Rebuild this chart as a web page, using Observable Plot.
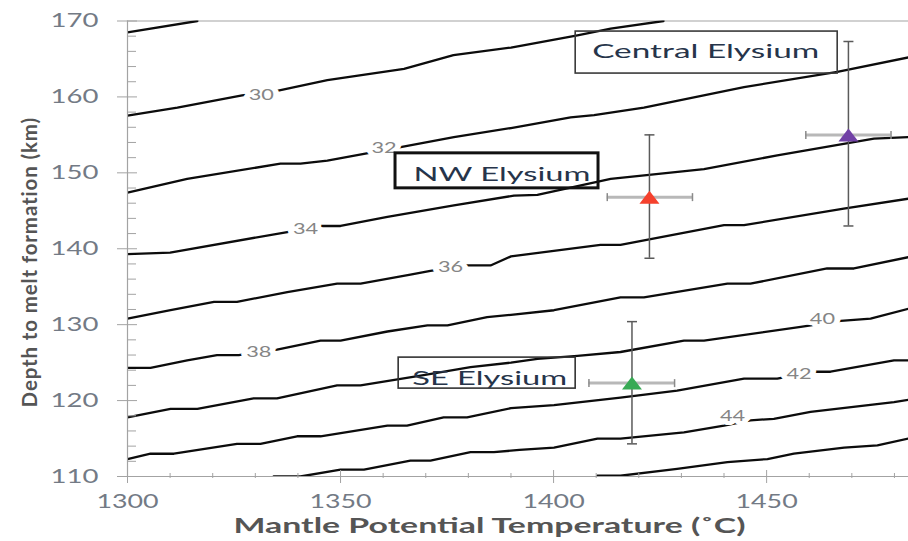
<!DOCTYPE html>
<html>
<head>
<meta charset="utf-8">
<script src="https://cdn.jsdelivr.net/npm/d3@7"></script>
<script src="https://cdn.jsdelivr.net/npm/@observablehq/plot@0.6"></script>
<style>
html, body { margin: 0; padding: 0; background: #fff; }
svg { display: block; }
</style>
</head>
<body>
<div id="chart"></div>
<script>
// ---------- data ----------
const contourLevels = [28, 30, 32, 34, 36, 38, 40, 42, 44, 46];
const c28 = [[1300,168.5],[1316.4,170]];
const c30 = [[1300,157.55],[1311.7,158.6],[1326.9,160.2],[1335.1,160.8],[1346.9,162.2],[1364.9,163.7],[1376.5,165.5],[1390,166.5],[1405.6,168.1],[1413.4,169],[1425.8,170]];
const c32 = [[1300,147.4],[1314,149.2],[1335.9,151.2],[1340.6,151.2],[1346.9,151.6],[1355.5,152.5],[1364.1,153.4],[1376.6,154.7],[1390,155.9],[1404,157.3],[1409.5,157.6],[1421.2,158.6],[1444.7,161.3],[1466.6,163.3],[1483.3,165.2]];
const c34 = [[1300,139.3],[1310,139.5],[1337.5,142.2],[1345.3,143],[1350,143],[1361,144.2],[1376.6,145.7],[1390.7,147.0],[1396.2,147.1],[1413.4,149.2],[1435.3,150.5],[1452.5,152.3],[1475.2,154.5],[1483.3,154.7]];
const c36 = [[1300,130.8],[1310.1,131.9],[1320.3,133.0],[1325.7,133.0],[1337.5,134.3],[1349.2,135.4],[1354.7,135.4],[1366.4,136.6],[1371.1,137.1],[1379.7,137.8],[1385.2,137.8],[1390,139.0],[1411,140.5],[1415.7,140.5],[1440,143.1],[1444.7,143.1],[1468.1,145.3],[1483.3,146.6]];
const c38 = [[1300,124.3],[1305.4,124.3],[1314,125.3],[1321,126.0],[1326.1,126.0],[1335.1,126.7],[1345.3,127.9],[1350,127.9],[1361,129.1],[1370.4,129.9],[1375.1,129.9],[1384.4,131.0],[1390,131.3],[1400.1,131.9],[1415.7,133.6],[1421.2,133.6],[1440.8,135.4],[1446.2,135.4],[1464.2,137.4],[1470.5,137.4],[1483.3,138.9]];
const c40 = [[1300,117.8],[1310.1,118.9],[1316.4,118.9],[1329.6,120.3],[1335.1,120.3],[1349.2,122.0],[1354.7,122.0],[1368.8,123.3],[1380.5,124.4],[1390,125.0],[1396.2,125.5],[1405.6,125.9],[1415.7,126.4],[1430.6,127.9],[1435.3,127.9],[1458,129.7],[1467.4,130.5],[1474.4,130.8],[1483.3,132.1]];
const c42 = [[1300,112.3],[1305.4,113.0],[1310.9,113.0],[1325.7,114.3],[1331.2,114.3],[1339.8,115.3],[1345.3,115.3],[1361,116.7],[1365.6,116.7],[1374.2,117.8],[1379.7,117.8],[1390,119.0],[1400.1,119.4],[1415.7,120.4],[1429,121.3],[1444.7,122.9],[1452.5,122.9],[1461.1,123.8],[1465,123.8],[1479.9,125.3],[1483.3,125.3]];
const c44 = [[1334.3,110],[1340.6,110],[1350,110.9],[1355.5,110.9],[1366.4,112.1],[1371.1,112.1],[1380.5,113.2],[1386,113.2],[1392,113.5],[1400.1,113.8],[1410.3,115.0],[1415.7,115.0],[1430.6,115.8],[1440,116.7],[1446.2,117.4],[1451.7,117.6],[1460.3,118.5],[1479.9,119.8],[1483.3,120.1]];
const c46 = [[1410.3,110.1],[1415.7,110.1],[1429,111.0],[1440.8,111.9],[1450.2,112.3],[1456.4,113.0],[1468.2,113.8],[1476,114.1],[1483.3,115.0]];
const contourPaths = [c28, c30, c32, c34, c36, c38, c40, c42, c44, c46];

const contourLabelText = ["30", "32", "34", "36", "38", "40", "42", "44"];
const contourLabelT = [1331.4, 1360.2, 1341.8, 1375.8, 1330.8, 1463.1, 1457.6, 1442.0];
const contourLabelDepth = [160.2, 153.2, 142.6, 137.6, 126.4, 130.7, 123.5, 117.9];

const sites = ["NW Elysium", "Central Elysium", "SE Elysium"];
const siteT = [1422.5, 1469.2, 1418.4];
const siteTLow = [1412.6, 1459.2, 1408.3];
const siteTHigh = [1432.6, 1479.2, 1428.4];
const siteDepth = [146.8, 155.0, 122.3];
const siteDepthLow = [138.75, 143.0, 114.3];
const siteDepthHigh = [155.0, 167.3, 130.4];

const annotationText = ["Central Elysium", "NW Elysium", "SE Elysium"];
const annotationT = [1435.7, 1387.9, 1385.0];
const annotationDepth = [166.0, 149.8, 122.96];

const xMajorTicks = [1300, 1350, 1400, 1450];
const xMinorTicks = [1310, 1320, 1330, 1340, 1360, 1370, 1380, 1390, 1410, 1420, 1430, 1440, 1460, 1470, 1480];
const yMajorTicks = [110, 120, 130, 140, 150, 160, 170];
const yMinorTicks = [112, 114, 116, 118, 122, 124, 126, 128, 132, 134, 136, 138, 142, 144, 146, 148, 152, 154, 156, 158, 162, 164, 166, 168];

const xTitle = "Mantle Potential Temperature (˚C)";
const yTitle = "Depth to melt formation (km)";

// ---------- tables ----------
const contourRows = contourPaths.flatMap((p, i) => p.map(([T, depth]) => ({level: contourLevels[i], T, depth})));
const labelRows = contourLabelText.map((text, i) => ({text, T: contourLabelT[i], depth: contourLabelDepth[i]}));
const siteRows = sites.map((site, i) => ({site, T: siteT[i], tLow: siteTLow[i], tHigh: siteTHigh[i], depth: siteDepth[i], dLow: siteDepthLow[i], dHigh: siteDepthHigh[i]}));
const annRows = annotationText.map((text, i) => ({text, T: annotationT[i], depth: annotationDepth[i]}));

// ---------- symbols ----------
const hCap = {draw(ctx) { ctx.moveTo(-5, 0); ctx.lineTo(5, 0); }};
const vCap = {draw(ctx) { ctx.moveTo(0, -4); ctx.lineTo(0, 4); }};
const tri = {draw(ctx) { ctx.moveTo(0, -6.5); ctx.lineTo(10, 6.5); ctx.lineTo(-10, 6.5); ctx.closePath(); }};

const axisGray = "#a3a3a3";
const tickTextColor = "#737a85";
const fmt = d => String(d);

function boxFor(i, l, r, t, b, stroke, sw) {
  return Plot.rect([annRows[i]], {
    x1: "T", x2: "T", y1: "depth", y2: "depth",
    insetLeft: -l, insetRight: -r, insetTop: -t, insetBottom: -b,
    fill: "none", stroke, strokeWidth: sw
  });
}

const chart = Plot.plot({
  width: 908,
  height: 541,
  marginLeft: 127,
  marginRight: 0,
  marginTop: 20.5,
  marginBottom: 65,
  style: {fontFamily: "Lato, 'Open Sans', sans-serif", background: "white", overflow: "visible"},
  x: {domain: [1300, 1483.3], label: null},
  y: {domain: [110, 170], label: null},
  color: {domain: sites, range: ["#f5412d", "#7141a6", "#38aa55"]},
  marks: [
    Plot.ruleY([170], {stroke: axisGray, strokeWidth: 1.2}),
    // contours
    Plot.line(contourRows, {x: "T", y: "depth", z: "level", stroke: "#0c0c0c", strokeWidth: 2.3, clip: true}),
    Plot.text(labelRows, {x: "T", y: "depth", text: "text", fill: "#858585", fontSize: 14.5, stroke: "white", strokeWidth: 8, paintOrder: "stroke"}),
    // axis lines & ticks
    Plot.ruleX([1300], {stroke: axisGray, strokeWidth: 1.2}),
    Plot.ruleY([110], {stroke: axisGray, strokeWidth: 1.2}),
    Plot.axisY(yMajorTicks, {anchor: "left", tickSize: 20, dx: 10, fill: "none", stroke: axisGray, label: null}),
    Plot.axisY(yMinorTicks, {anchor: "left", tickSize: 9, dx: 9, fill: "none", stroke: axisGray, label: null}),
    Plot.axisY(yMajorTicks, {anchor: "left", tickSize: 0, tickPadding: 29, fill: tickTextColor, fontSize: 19, tickFormat: fmt, label: null}),
    Plot.axisX(xMajorTicks, {anchor: "bottom", tickSize: 13, dy: -6, fill: "none", stroke: axisGray, label: null}),
    Plot.axisX(xMinorTicks, {anchor: "bottom", tickSize: 5, dy: -3, fill: "none", stroke: axisGray, label: null}),
    Plot.axisX(xMajorTicks, {anchor: "bottom", tickSize: 0, tickPadding: 18, fill: tickTextColor, fontSize: 18.5, tickFormat: fmt, label: null}),
    // annotation boxes
    boxFor(0, 130, 132, 19.8, 22.2, "#3a3a3a", 1.6),
    boxFor(1, 106.5, 96.5, 21, 14, "#111", 3),
    boxFor(2, 91, 86, 20.5, 10.5, "#333", 1.6),
    Plot.text(annRows, {x: "T", y: "depth", text: "text", fontSize: 20, fill: "#26344a"}),
    // error bars
    Plot.ruleY(siteRows, {y: "depth", x1: "tLow", x2: "tHigh", stroke: "#b8b8b8", strokeWidth: 3}),
    Plot.dot(siteRows, {x: "tLow", y: "depth", symbol: vCap, r: 4, fill: "none", stroke: "#8a8a8a", strokeWidth: 1.5}),
    Plot.dot(siteRows, {x: "tHigh", y: "depth", symbol: vCap, r: 4, fill: "none", stroke: "#8a8a8a", strokeWidth: 1.5}),
    Plot.ruleX(siteRows, {x: "T", y1: "dLow", y2: "dHigh", stroke: "#5a5a5a", strokeWidth: 1.5}),
    Plot.dot(siteRows, {x: "T", y: "dLow", symbol: hCap, r: 4, fill: "none", stroke: "#5a5a5a", strokeWidth: 1.5}),
    Plot.dot(siteRows, {x: "T", y: "dHigh", symbol: hCap, r: 4, fill: "none", stroke: "#5a5a5a", strokeWidth: 1.5}),
    Plot.dot(siteRows, {x: "T", y: "depth", symbol: tri, r: 8, fill: "site", stroke: "none"}),
    // axis titles
    Plot.text([xTitle], {text: d => d, frameAnchor: "bottom", textAnchor: "middle", dx: -28.5, dy: 56.5, fontSize: 21, fontWeight: "bold", fill: "#555"}),
    Plot.text([yTitle], {text: d => d, frameAnchor: "left", textAnchor: "middle", rotate: -90, dx: -97.5, dy: 13.5, fontSize: 20.5, fontWeight: "bold", fill: "#555"})
  ]
});

document.getElementById("chart").append(chart);

// horizontal stretch of the text, as in the reference picture
const targetWidths = {
  "Central Elysium": 227, "NW Elysium": 177, "SE Elysium": 155,
  [xTitle]: 512
};
chart.querySelectorAll("text").forEach(t => {
  const len = t.getComputedTextLength();
  if (!len) return;
  const content = t.textContent;
  const tr = t.getAttribute("transform") || "";
  if (tr.includes("rotate")) {
    const n = content.length;
    t.style.letterSpacing = ((290 - len) / (n - 1)).toFixed(2) + "px";
    return;
  }
  const target = targetWidths[content] ?? len * (/^\d\d$/.test(content) ? 1.5 : (/^\d+$/.test(content) ? 1.45 : 1.4));
  t.setAttribute("textLength", target.toFixed(1));
  t.setAttribute("lengthAdjust", "spacingAndGlyphs");
});
</script>
</body>
</html>
